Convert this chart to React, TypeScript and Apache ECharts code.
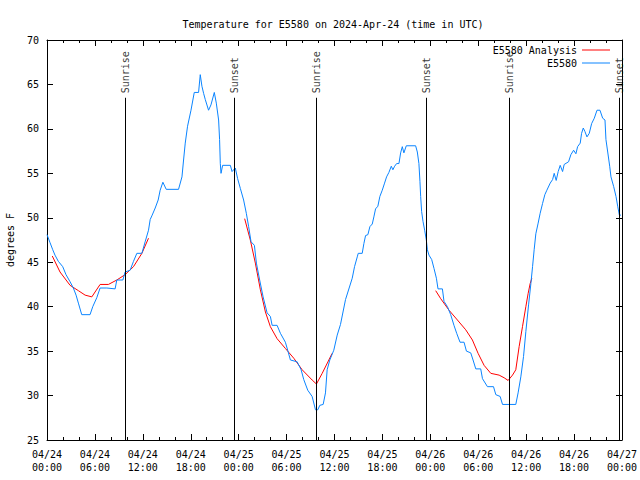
import React, { useEffect, useRef } from 'react';
import * as echarts from 'echarts';

const FONT = '"DejaVu Sans Mono", "Liberation Mono", monospace';

// hours since 2024-04-24 00:00 UTC, temperature in °F
const e5580Readings: [number, number][] = [
  [0, 48.1], [0.38, 47.2], [0.72, 46.4], [1.0, 45.8], [1.42, 45.1], [1.97, 44.5], [2.38, 43.6], [2.89, 42.8],
  [3.3, 42.1], [3.64, 41.3], [3.93, 40.4], [4.35, 39.1], [5.39, 39.1], [5.73, 40.0], [6.23, 41.0], [6.65, 42.1],
  [7.49, 42.1], [8.53, 42.0], [8.74, 43.0], [9.5, 43.0], [9.78, 43.9], [10.41, 44.1], [10.83, 45.1], [11.25, 46.0],
  [11.88, 46.0], [12.29, 47.3], [12.71, 48.6], [12.92, 49.8], [13.17, 50.3], [13.55, 51.1], [13.92, 52.0], [14.17, 53.1],
  [14.51, 54.0], [14.93, 53.2], [16.47, 53.2], [16.9, 54.6], [17.1, 56.5], [17.31, 58.4], [17.6, 60.3], [18.03, 62.1],
  [18.44, 64.1], [18.98, 64.1], [19.19, 66.1], [19.4, 64.8], [19.61, 64.0], [19.82, 63.3], [20.23, 62.1], [20.53, 62.7],
  [20.95, 64.1], [21.2, 62.9], [21.49, 61.0], [21.61, 58.8], [21.7, 56.1], [21.79, 55.0], [21.99, 55.9], [22.96, 55.9],
  [23.17, 55.2], [23.58, 55.6], [23.87, 54.4], [24.21, 53.3], [24.62, 52.0], [24.96, 50.5], [25.25, 49.0], [25.55, 47.3],
  [25.97, 46.9], [26.22, 44.9], [26.63, 43.0], [27.06, 41.1], [27.56, 39.3], [27.97, 38.9], [28.19, 37.9], [28.81, 37.9],
  [29.23, 37.0], [29.85, 36.0], [30.14, 35.1], [30.48, 34.0], [31.32, 33.8], [31.82, 32.9], [32.15, 31.8], [32.65, 30.6],
  [33.2, 29.9], [33.62, 28.4], [33.91, 28.4], [34.16, 28.9], [34.58, 29.0], [34.87, 30.3], [35.08, 32.9], [35.41, 34.0],
  [35.91, 35.1], [36.34, 36.8], [36.75, 38.0], [37.38, 40.8], [38.22, 43.2], [38.51, 44.5], [38.85, 45.6], [38.97, 46.0],
  [39.47, 46.0], [39.68, 47.1], [39.89, 48.0], [40.18, 48.1], [40.43, 49.0], [40.73, 49.3], [40.93, 50.1], [41.14, 51.0],
  [41.43, 51.3], [41.68, 52.4], [41.98, 53.1], [42.27, 53.9], [42.52, 54.6], [42.81, 55.1], [43.11, 55.8], [43.31, 55.4],
  [43.53, 55.8], [43.78, 56.1], [44.07, 56.1], [44.28, 57.3], [44.49, 58.0], [44.69, 57.3], [44.99, 58.1], [46.16, 58.1],
  [46.37, 57.4], [46.57, 56.1], [46.7, 54.1], [46.79, 52.4], [46.91, 50.7], [47.08, 49.6], [47.29, 48.6], [47.5, 47.5],
  [47.63, 46.4], [47.83, 45.8], [48.17, 45.3], [48.46, 44.3], [48.76, 43.2], [48.96, 42.0], [49.51, 42.0], [49.71, 40.6],
  [50.14, 40.0], [50.55, 39.1], [50.96, 37.9], [51.3, 37.0], [51.72, 36.0], [52.22, 36.0], [52.52, 35.0], [53.06, 34.8],
  [53.35, 34.0], [53.69, 33.0], [54.31, 33.0], [54.53, 31.9], [55.15, 31.0], [55.91, 31.0], [56.2, 30.1], [56.74, 29.9],
  [57.04, 29.0], [58.7, 29.0], [58.99, 30.3], [59.33, 32.1], [59.67, 34.4], [59.96, 37.2], [60.3, 40.2], [60.59, 42.6],
  [60.8, 44.5], [61.0, 46.4], [61.21, 48.2], [61.5, 49.4], [61.75, 50.5], [62.05, 51.6], [62.34, 52.6], [62.59, 53.1],
  [63.01, 53.9], [63.31, 54.3], [63.51, 55.0], [63.76, 54.2], [64.01, 55.2], [64.26, 55.9], [64.56, 55.2], [64.76, 56.0],
  [65.31, 56.3], [65.6, 57.1], [65.94, 57.6], [66.23, 57.2], [66.44, 58.0], [66.77, 58.4], [66.94, 59.5], [67.15, 60.1],
  [67.36, 59.7], [67.61, 59.1], [67.9, 59.5], [68.2, 60.6], [68.53, 61.2], [68.87, 62.1], [69.24, 62.1], [69.58, 61.2],
  [69.87, 61.0], [69.99, 58.8], [70.21, 57.4], [70.46, 55.8], [70.62, 54.6], [70.96, 53.5], [71.25, 52.4], [71.46, 51.3],
  [71.67, 50.3], [71.87, 50.3],
];

const analysisNight1: [number, number][] = [
  [0.66, 45.7], [1.63, 43.9], [2.89, 42.4], [3.93, 41.8], [4.77, 41.3], [5.61, 41.1], [6.65, 42.5], [7.69, 42.5],
  [8.74, 43.0], [9.78, 43.6], [10.83, 44.5], [11.88, 46.0], [12.71, 47.7],
];
const analysisNight2: [number, number][] = [
  [24.75, 49.9], [25.46, 47.5], [26.09, 44.9], [26.72, 41.9], [27.35, 39.4], [27.97, 37.75], [28.81, 36.4],
  [29.85, 35.3], [30.9, 34.2], [31.95, 32.9], [33.2, 31.75], [33.74, 31.3], [34.46, 32.5], [35.29, 34.0], [35.71, 34.75],
];
const analysisNight3: [number, number][] = [
  [48.67, 41.8], [49.3, 40.9], [50.34, 39.6], [51.39, 38.5], [52.43, 37.4], [53.27, 36.25], [53.98, 34.75],
  [54.73, 33.4], [55.57, 32.5], [56.61, 32.3], [57.24, 32.0], [57.74, 31.7], [58.29, 32.3], [58.7, 32.9],
  [59.12, 35.5], [59.54, 37.75], [59.96, 40.0], [60.25, 41.5], [60.5, 42.6], [60.71, 43.2],
];

const sunHours = [9.78, 23.46, 33.74, 47.54, 57.87, 71.68];
const sunLabels = ['Sunrise', 'Sunset', 'Sunrise', 'Sunset', 'Sunrise', 'Sunset'];

const X_MIN = 0;
const X_MAX = 72;
const X_STEP = 6;
const Y_MIN = 25;
const Y_MAX = 70;
const Y_STEP = 5;
const SUN_LINE_TOP = 63.5;
const SUN_LABEL_BASE = 64.0;

const RED = '#ff0000';
const BLUE = '#0a84ff';

function fmtTime(v: number) {
  const day = 24 + Math.floor(v / 24);
  const hr = Math.round(v % 24);
  return `04/${day}\n${String(hr).padStart(2, '0')}:00`;
}

export default function App() {
  const ref = useRef<HTMLDivElement>(null);
  useEffect(() => {
    const chart = echarts.init(ref.current!, null, { renderer: 'svg' });
    const axisLine = { onZero: false, lineStyle: { color: '#000', width: 1 } };
    const tick = { inside: true, length: 6, lineStyle: { color: '#000', width: 1 } };
    const labelStyle = { color: '#000', fontFamily: FONT, fontSize: 10 };
    const xBase = {
      type: 'value', min: X_MIN, max: X_MAX, interval: X_STEP,
      axisLine, axisTick: tick,
      minorTick: { show: true, splitNumber: 3, length: 3, lineStyle: { color: '#000', width: 1 } },
      splitLine: { show: false }, minorSplitLine: { show: false },
    };
    const yBase = {
      type: 'value', min: Y_MIN, max: Y_MAX, interval: Y_STEP,
      axisLine, axisTick: tick, splitLine: { show: false },
    };
    const redCommon = {
      type: 'line', name: 'E5580 Analysis', symbol: 'none', showSymbol: false,
      lineStyle: { color: RED, width: 1 }, itemStyle: { color: RED }, z: 3,
    };
    chart.setOption({
      animation: false,
      backgroundColor: '#fff',
      title: {
        text: 'Temperature for E5580 on 2024-Apr-24 (time in UTC)',
        left: 328, top: 14, textAlign: 'center',
        textStyle: { ...labelStyle, fontWeight: 'normal' },
      },
      legend: {
        data: ['E5580 Analysis', 'E5580'],
        orient: 'vertical', right: 25, top: 39, align: 'right',
        icon: 'rect', itemWidth: 28, itemHeight: 1, itemGap: 1,
        textStyle: { ...labelStyle, lineHeight: 12 },
      },
      grid: { left: 47, right: 18, top: 40, bottom: 40, containLabel: false, outerBoundsMode: 'none' },
      xAxis: [
        { ...xBase, position: 'bottom', axisLabel: { ...labelStyle, formatter: fmtTime, margin: 8, lineHeight: 13 } },
        { ...xBase, position: 'top', axisLabel: { show: false } },
      ],
      yAxis: [
        {
          ...yBase, position: 'left',
          axisLabel: { ...labelStyle, margin: 8 },
          name: 'degrees F', nameLocation: 'middle', nameGap: 32, nameRotate: 90,
          nameTextStyle: labelStyle,
        },
        { ...yBase, position: 'right', axisLabel: { show: false } },
      ],
      series: [
        { ...redCommon, data: analysisNight1 },
        { ...redCommon, data: analysisNight2 },
        { ...redCommon, data: analysisNight3 },
        {
          type: 'line', name: 'E5580', data: e5580Readings, symbol: 'none', showSymbol: false,
          lineStyle: { color: BLUE, width: 1 }, itemStyle: { color: BLUE }, z: 4,
        },
        {
          type: 'line', name: 'sun', data: [], symbol: 'none', z: 2,
          markLine: {
            silent: true, symbol: ['none', 'none'], animation: false,
            label: { show: false },
            lineStyle: { color: '#000', width: 1, type: 'solid' },
            emphasis: { disabled: true },
            data: sunHours.map((h) => [{ coord: [h, Y_MIN] }, { coord: [h, SUN_LINE_TOP] }]),
          },
        },
        {
          type: 'scatter', name: 'sunLabels', symbolSize: 0, silent: true, z: 5,
          data: sunHours.map((h, i) => [h, SUN_LABEL_BASE, sunLabels[i]]),
          encode: { x: 0, y: 1 },
          label: {
            show: true, position: 'inside', rotate: 90, align: 'left', verticalAlign: 'middle',
            ...labelStyle,
            formatter: (p: any) => p.value[2],
          },
        },
      ],
    });
    return () => chart.dispose();
  }, []);
  return (
    <div
      ref={ref}
      style={{ position: 'absolute', left: 0, top: 0, width: 640, height: 480, background: '#fff' }}
    />
  );
}
